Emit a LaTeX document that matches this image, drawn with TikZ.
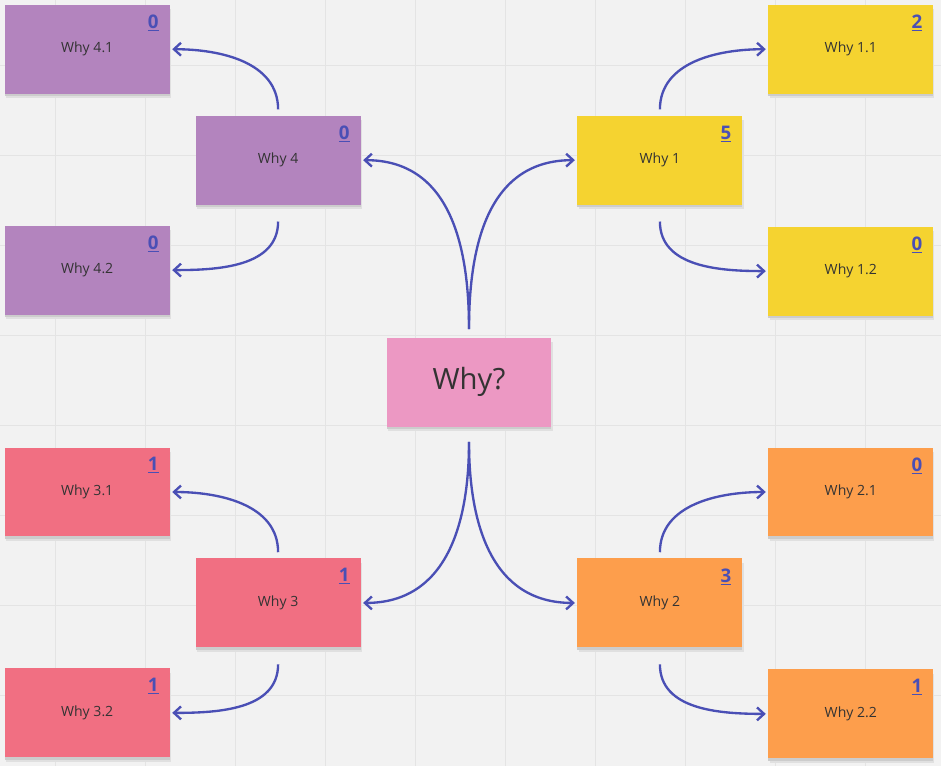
\documentclass[tikz,border=0pt]{standalone}
\usepackage{fontspec}
\setmainfont{Open Sans}
\usetikzlibrary{arrows.meta}
\definecolor{bg}{HTML}{F2F2F2}
\definecolor{gridc}{HTML}{E4E4E4}
\definecolor{purp}{HTML}{B384BE}
\definecolor{yell}{HTML}{F5D330}
\definecolor{pinkc}{HTML}{EC98C3}
\definecolor{redc}{HTML}{F16F82}
\definecolor{oran}{HTML}{FD9E4C}
\definecolor{link}{HTML}{4A4FB5}
\begin{document}
\begin{tikzpicture}[x=0.03cm,y=-0.03cm,
  note/.style={rectangle, minimum width=4.95cm, minimum height=2.67cm, inner sep=0pt,
    font=\fontsize{12}{14}\selectfont, text=black!80,
    preaction={fill=black!12, transform canvas={yshift=-4pt, xshift=1pt}},
    preaction={fill=black!20, transform canvas={yshift=-2pt}}},
  count/.style={font=\fontsize{16}{18}\selectfont\bfseries, text=link, anchor=north east, inner sep=0pt},
  arrow/.style={-{Straight Barb[length=6pt,width=11pt]}, link, line width=2pt}]

    % Hintergrund
    \fill[bg] (0,0) rectangle (941,766);
    \foreach \g in {55,145,235,325,415,505,595,685,775,865} {
      \draw[gridc] (\g,0) -- (\g,766);
    }
    \foreach \g in {65,155,245,335,425,515,605,695} {
      \draw[gridc] (0,\g) -- (941,\g);
    }
    \useasboundingbox (0,0) rectangle (941,766);

    % Zettel
    \foreach \n/\x/\y/\c/\t/\k in {w41/87/49/purp/Why 4.1/0, w4/278/160/purp/Why 4/0, w42/87/270/purp/Why 4.2/0,
      w11/851/49/yell/Why 1.1/2, w1/660/160/yell/Why 1/5, w12/851/271/yell/Why 1.2/0,
      w31/87/492/redc/Why 3.1/1, w3/278/603/redc/Why 3/1, w32/87/713/redc/Why 3.2/1,
      w21/851/492/oran/Why 2.1/0, w2/660/603/oran/Why 2/3, w22/851/714/oran/Why 2.2/1} {
      \node[note, fill=\c] (\n) at (\x,\y) {\t};
      \node[count] at ([xshift=-0.33cm,yshift=-0.3cm]\n.north east) {\underline{\k}};
    }
    \node[note, fill=pinkc, font=\fontsize{25}{28}\selectfont] (why) at (469,382) {Why?};

    % Pfeile
    \draw[arrow] ([yshift=0.25cm]why.north) to[out=90,in=0,looseness=1.1] ([xshift=2pt]w4.east);
    \draw[arrow] ([yshift=0.25cm]why.north) to[out=90,in=180,looseness=1.1] ([xshift=-2pt]w1.west);
    \draw[arrow] ([yshift=-0.45cm]why.south) to[out=-90,in=0,looseness=1.1] ([xshift=2pt]w3.east);
    \draw[arrow] ([yshift=-0.45cm]why.south) to[out=-90,in=180,looseness=1.1] ([xshift=-2pt]w2.west);
    \foreach \p/\a/\b in {w4/w41/w42, w3/w31/w32} {
      \draw[arrow] ([yshift=0.18cm]\p.north) to[out=90,in=0] ([xshift=2pt]\a.east);
      \draw[arrow] ([yshift=-0.5cm]\p.south) to[out=-90,in=0] ([xshift=2pt]\b.east);
    }
    \foreach \p/\a/\b in {w1/w11/w12, w2/w21/w22} {
      \draw[arrow] ([yshift=0.18cm]\p.north) to[out=90,in=180] ([xshift=-2pt]\a.west);
      \draw[arrow] ([yshift=-0.5cm]\p.south) to[out=-90,in=180] ([xshift=-2pt]\b.west);
    }

\end{tikzpicture}
\end{document}
